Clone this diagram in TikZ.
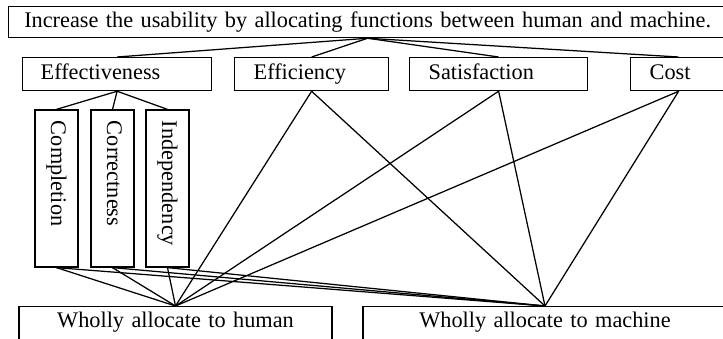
\documentclass[tikz,border=0pt]{standalone}
\usepackage{fontspec}
\setmainfont{Liberation Serif}
\begin{document}
\begin{tikzpicture}[x=1pt,y=-1pt,line width=1.25pt,
    box/.style={draw,rectangle,font=\fontsize{22.3}{26}\selectfont,text height=15pt,text depth=4pt,inner ysep=7pt,align=left},
    tallbox/.style={box,rotate=-90,text width=135pt,inner xsep=11pt,inner ysep=12pt}]

\def\LINKCOLOR{black}
	\clip (0,0) rectangle (723,339);
	\node[box,anchor=north west,inner ysep=6pt,inner xsep=9pt,text width=700pt,align=center] (goal) at (8,6) {Increase the usability by allocating functions between human and machine.};
	\node[box,anchor=north west,inner xsep=18pt,text width=153pt] (effectiveness) at (22,57) {Effectiveness};
	\node[box,anchor=north west,inner xsep=19pt,text width=116pt] (efficiency) at (234,57) {Efficiency};
	\node[box,anchor=north west,inner xsep=19pt,text width=140pt] (satisfaction) at (409,57) {Satisfaction};
	\node[box,anchor=north west,inner xsep=19pt,text width=58pt] (cost) at (630,57) {Cost};
	\node[tallbox] (completion) at (56.5,188.5) {Completion};
	\node[tallbox] (correctness) at (112.5,188.5) {Correctness};
	\node[tallbox] (independency) at (167.5,188.5) {Independency};
	\node[box,anchor=north,inner xsep=8pt,text width=297pt,text depth=10pt,inner ysep=6pt,align=center] (human) at (175.5,306) {Wholly allocate to human};
	\node[box,anchor=north,inner xsep=8pt,text width=348pt,text depth=10pt,inner ysep=6pt,align=center] (machine) at (545,306) {Wholly allocate to machine};

	\draw[\LINKCOLOR] (goal.south) -- (effectiveness.north);
	\draw[\LINKCOLOR] (goal.south) -- (efficiency.north);
	\draw[\LINKCOLOR] (goal.south) -- (satisfaction.north);
	\draw[\LINKCOLOR] (goal.south) -- (cost.north);
	% rotated boxes: west is the top end, east the bottom end
	\draw[\LINKCOLOR] (effectiveness.south) -- (completion.west);
	\draw[\LINKCOLOR] (effectiveness.south) -- (correctness.west);
	\draw[\LINKCOLOR] (effectiveness.south) -- (independency.west);
	\draw[\LINKCOLOR] (completion.east) -- (human.north);
	\draw[\LINKCOLOR] (correctness.east) -- (human.north);
	\draw[\LINKCOLOR] (independency.east) -- (human.north);
	\draw[\LINKCOLOR] (efficiency.south) -- (human.north);
	\draw[\LINKCOLOR] (satisfaction.south) -- (human.north);
	\draw[\LINKCOLOR] (cost.south) -- (human.north);
	\draw[\LINKCOLOR] (completion.east) -- (machine.north);
	\draw[\LINKCOLOR] (correctness.east) -- (machine.north);
	\draw[\LINKCOLOR] (independency.east) -- (machine.north);
	\draw[\LINKCOLOR] (efficiency.south) -- (machine.north);
	\draw[\LINKCOLOR] (satisfaction.south) -- (machine.north);
	\draw[\LINKCOLOR] (cost.south) -- (machine.north);

          \end{tikzpicture}
\end{document}
